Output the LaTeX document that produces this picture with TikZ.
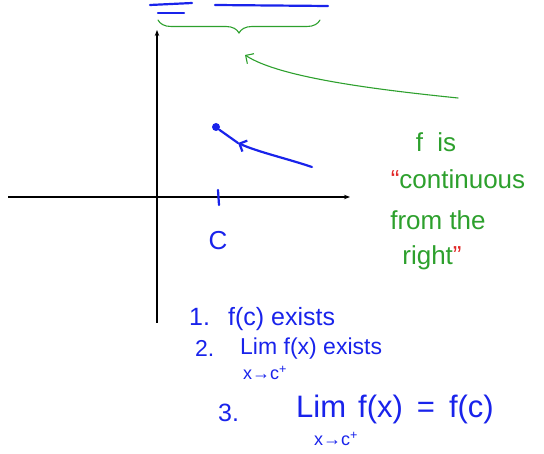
\documentclass[tikz,border=0pt]{standalone}
\usepackage{fontspec}
\setmainfont{Liberation Sans}
\usepackage{xcolor}
\usetikzlibrary{arrows.meta,decorations.pathreplacing}
\definecolor{penblue}{RGB}{25,35,235}
\definecolor{pengreen}{RGB}{45,160,45}
\definecolor{penred}{RGB}{225,40,40}
\tikzset{
  axis line/.style={line width=1.3pt, -{Stealth[length=6pt]}},
  blue ink/.style={penblue, line width=2.2pt, line cap=round},
  green ink/.style={pengreen, line width=1.1pt, line cap=round},
  note/.style={
    pengreen,
    font=\fontsize{26}{28}\selectfont,
    inner sep=0pt,
  },
  cond/.style={
    penblue,
    font=\fontsize{25}{27}\selectfont,
    anchor=base west,
    inner sep=0pt,
  },
  sub/.style={
    penblue,
    font=\fontsize{18}{20}\selectfont,
    anchor=base west,
    inner sep=0pt,
  },
}

\begin{document}
\begin{tikzpicture}[x=1pt,y=-1pt]
  \useasboundingbox (0,0) rectangle (544,454);
  % axes
  \coordinate (xl) at (8,197);
  \coordinate (xr) at (350,197);
  \coordinate (yb) at (157,323);
  \coordinate (yt) at (157,30);
  \draw[axis line] (xl) -- (xr);
  \draw[axis line] (yb) -- (yt);
  % the point c
  \coordinate (tick top) at (218,190);
  \coordinate (tick bot) at (219,205);
  \draw[blue ink] (tick top) -- (tick bot);
  \node[penblue, font=\fontsize{26}{28}\selectfont] (c) at (218,241) {C};
  % graph coming in from the right
  \coordinate (start) at (312,167);
  \coordinate (mid) at (238,143);
  \node[circle, fill=penblue, inner sep=0pt, minimum size=8pt] (dot) at (216,127) {};
  \draw[blue ink, -{Straight Barb[length=6pt]}] (start) .. controls (285,158) and (258,152) .. (mid);
  \draw[blue ink] (mid) .. controls (228,137) .. (dot);
  % marks at the top
  \coordinate (m1a) at (150,5);
  \coordinate (m1b) at (192,3);
  \coordinate (m2a) at (158,13);
  \coordinate (m2b) at (184,13);
  \coordinate (m3a) at (215,5);
  \coordinate (m3b) at (328,6);
  \draw[blue ink] (m1a) -- (m1b);
  \draw[blue ink] (m2a) -- (m2b);
  \draw[blue ink] (m3a) -- (m3b);
  \coordinate (br left) at (158,20);
  \coordinate (br right) at (320,20);
  \draw[green ink, decorate, decoration={brace, mirror, amplitude=13pt}] (br left) -- (br right);
  % remark
  \coordinate (tail) at (458,98);
  \coordinate (head) at (245,55);
  \draw[green ink, -{Straight Barb[length=6pt]}] (tail) .. controls (380,90) and (280,78) .. (head);
  \node[note] (f is) at (436,142) {f\ \ is};
  \node[note] (cont) at (458,179) {\textcolor{penred}{``}continuous};
  \node[note] (from) at (438,220) {from the};
  \node[note] (right) at (432,258) {right\textcolor{penred}{''}};
  % conditions
  \node[cond] (n1) at (189,326) {1.};
  \node[cond] (c1) at (228,326) {f(c)\ exists};
  \node[cond, font=\fontsize{23}{25}\selectfont] (n2) at (195,357) {2.};
  \node[cond, font=\fontsize{23}{25}\selectfont] (c2) at (240,355) {Lim f(x) exists};
  \node[sub] (s2) at (243,380) {x→c\textsuperscript{+}};
  \node[cond] (n3) at (218,421) {3.};
  \node[cond, font=\fontsize{31}{33}\selectfont] (c3) at (296,418)
    {Lim\hspace{12pt}f(x)\hspace{14pt}=\hspace{14pt}f(c)};
  \node[sub] (s3) at (314,446) {x→c\textsuperscript{+}};
\end{tikzpicture}
\end{document}
